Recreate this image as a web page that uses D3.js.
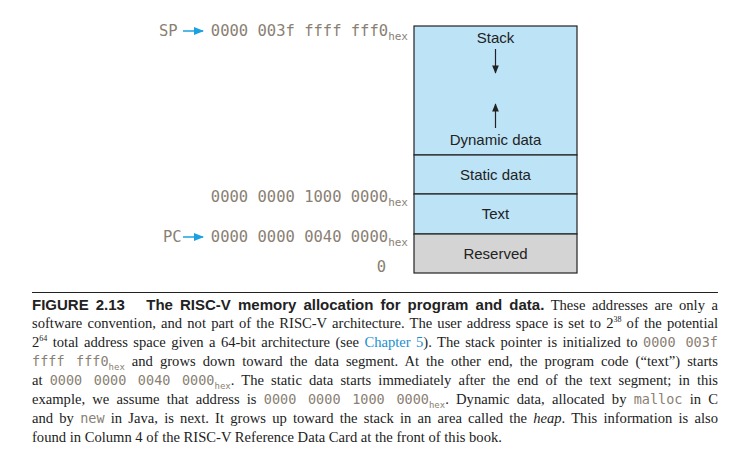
<!DOCTYPE html>
<html>
<head>
<meta charset="utf-8">
<script src="https://cdn.jsdelivr.net/npm/d3@7"></script>
<style>
  body { margin: 0; background: #fff; width: 732px; height: 464px; position: relative; overflow: hidden; }
  svg { position: absolute; left: 0; top: 0; }
  #caption { position: absolute; left: 32px; top: 292px; width: 686px; border-top: 1.5px solid #222;
    font-family: "Liberation Serif", serif; font-size: 14.6px; color: #222; padding-top: 2px; }
  #caption .ln { height: 19px; line-height: 19px; text-align: justify; text-align-last: justify; white-space: nowrap; }
  #caption .ln.last { text-align-last: left; }
  .hd { font-family: "Liberation Sans Narrow", "Liberation Sans", sans-serif; font-weight: bold; font-size: 15px; }
  .m { font-family: "DejaVu Sans Mono", monospace; color: #8a7f74; font-size: 13.5px; }
  .m sub { font-size: 9px; vertical-align: -4px; }
  .lk { color: #1a8fd0; }
  sup { font-size: 8px; vertical-align: 6px; line-height: 0; }
</style>
</head>
<body>
<svg id="chart" width="732" height="290"></svg>
<div id="caption"></div>
<script>
// memory segments, top to bottom, with their share of the drawn column
var segments = ['Stack', 'Static data', 'Text', 'Reserved'];
var segmentSizes = [129, 39, 40, 39];
var segmentFills = ['#bde3f7', '#bde3f7', '#bde3f7', '#d4d4d4'];

// address labels: boundary index (0 = top), text, pointer
var addresses = [
  { at: 0, text: '0000 003f ffff fff0', hex: true, pointer: 'SP' },
  { at: 2, text: '0000 0000 1000 0000', hex: true, pointer: null },
  { at: 3, text: '0000 0000 0040 0000', hex: true, pointer: 'PC' },
  { at: 4, text: '0', hex: false, pointer: null }
];

var captionLines = [
  '<span class="hd">FIGURE 2.13&nbsp;&nbsp;&nbsp;The RISC-V memory allocation for program and data.</span> These addresses are only a',
  'software convention, and not part of the RISC-V architecture. The user address space is set to 2<sup>38</sup> of the potential',
  '2<sup>64</sup> total address space given a 64-bit architecture (see <span class="lk">Chapter 5</span>). The stack pointer is initialized to <span class="m">0000 003f</span>',
  '<span class="m">ffff fff0<sub>hex</sub></span> and grows down toward the data segment. At the other end, the program code (“text”) starts',
  'at <span class="m">0000 0000 0040 0000<sub>hex</sub></span>. The static data starts immediately after the end of the text segment; in this',
  'example, we assume that address is <span class="m">0000 0000 1000 0000<sub>hex</sub></span>. Dynamic data, allocated by <span class="m">malloc</span> in C',
  'and by <span class="m">new</span> in Java, is next. It grows up toward the stack in an area called the <i>heap</i>. This information is also',
  'found in Column 4 of the RISC-V Reference Data Card at the front of this book.'
];

var svg = d3.select('#chart');
var x0 = 414, x1 = 577;

// boundaries from cumulative sizes
var cum = [0];
segmentSizes.forEach(function (s, i) { cum.push(cum[i] + s); });
var y = d3.scaleLinear().domain([0, cum[cum.length - 1]]).range([26, 273]);

var defs = svg.append('defs');
[['ah', '#222'], ['ahb', '#1ba1e2']].forEach(function (m) {
  defs.append('marker').attr('id', m[0]).attr('viewBox', '0 0 10 10').attr('refX', 9).attr('refY', 5)
    .attr('markerWidth', 7).attr('markerHeight', 7).attr('orient', 'auto')
    .append('path').attr('d', 'M0,1 L10,5 L0,9 z').attr('fill', m[1]);
});

svg.selectAll('rect.seg').data(segments).enter().append('rect')
  .attr('x', x0).attr('width', x1 - x0)
  .attr('y', function (d, i) { return y(cum[i]); })
  .attr('height', function (d, i) { return y(cum[i + 1]) - y(cum[i]); })
  .attr('fill', function (d, i) { return segmentFills[i]; })
  .attr('stroke', '#222').attr('stroke-width', 1.2);

var cx = (x0 + x1) / 2;
var lbl = { 'font-family': 'Liberation Sans, Arial, sans-serif', 'font-size': '15px', fill: '#222', 'text-anchor': 'middle' };
function label(t, yy) {
  var e = svg.append('text').attr('x', cx).attr('y', yy).text(t);
  Object.keys(lbl).forEach(function (k) { e.attr(k, lbl[k]); });
}
label('Stack', y(cum[0]) + 17);
label('Dynamic data', y(cum[1]) - 10);
segments.slice(1).forEach(function (s, i) {
  label(s, (y(cum[i + 1]) + y(cum[i + 2])) / 2 + 5);
});

// grow arrows
svg.append('line').attr('x1', cx).attr('x2', cx).attr('y1', y(cum[0]) + 23).attr('y2', y(cum[0]) + 47)
  .attr('stroke', '#222').attr('stroke-width', 1.2).attr('marker-end', 'url(#ah)');
svg.append('line').attr('x1', cx).attr('x2', cx).attr('y1', y(cum[1]) - 27).attr('y2', y(cum[1]) - 51)
  .attr('stroke', '#222').attr('stroke-width', 1.2).attr('marker-end', 'url(#ah)');

// address labels
var mono = 'DejaVu Sans Mono, monospace';
addresses.forEach(function (a) {
  var by = y(cum[a.at]) + (a.at === 0 ? 10 : (a.at === 4 ? -1 : 8));
  var t = svg.append('text').attr('y', by).attr('font-family', mono).attr('fill', '#8a7f74')
    .attr('font-size', '15.5px').attr('text-anchor', 'end');
  if (a.hex) {
    t.attr('x', 408);
    t.append('tspan').text(a.text.replace(/ /g, '\u00a0'));
    t.append('tspan').attr('font-size', '11px').attr('dy', 4).text('hex');
  } else {
    t.attr('x', 386).text(a.text);
  }
  if (a.pointer) {
    svg.append('text').attr('x', a.pointer === 'SP' ? 159 : 163).attr('y', by).attr('font-family', mono)
      .attr('fill', '#8a7f74').attr('font-size', '15.5px').text(a.pointer);
    svg.append('line').attr('x1', 183).attr('x2', 203).attr('y1', by - 5).attr('y2', by - 5)
      .attr('stroke', '#1ba1e2').attr('stroke-width', 1.5).attr('marker-end', 'url(#ahb)');
  }
});

d3.select('#caption').selectAll('div').data(captionLines).enter().append('div')
  .attr('class', function (d, i) { return i === captionLines.length - 1 ? 'ln last' : 'ln'; })
  .html(function (d) { return d; });
</script>
</body>
</html>
